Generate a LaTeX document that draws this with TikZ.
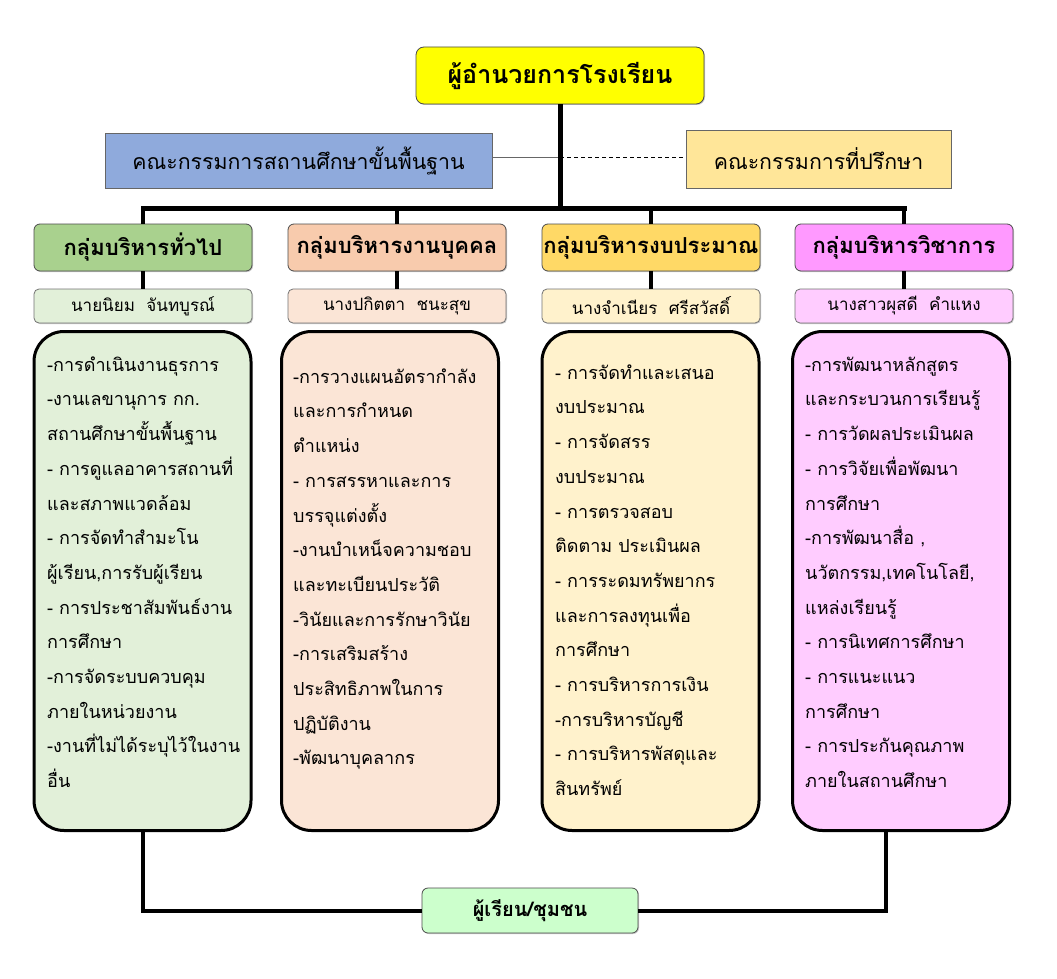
\documentclass[tikz,border=0pt]{standalone}
\usepackage{fontspec}
\usetikzlibrary{shadows}
\newfontfamily\thaifont[Script=Thai]{Loma}
\newfontfamily\thaibold[Script=Thai,BoldFont={* Bold}]{Loma}
\definecolor{cTop}{HTML}{FFFF00}
\definecolor{cBlue}{HTML}{8FAADC}
\definecolor{cAdv}{HTML}{FFE699}
\definecolor{hA}{HTML}{A9D18E}
\definecolor{hB}{HTML}{F8CBAD}
\definecolor{hC}{HTML}{FFD966}
\definecolor{hD}{HTML}{FF99FF}
\definecolor{lA}{HTML}{E2F0D9}
\definecolor{lB}{HTML}{FBE5D6}
\definecolor{lC}{HTML}{FFF2CC}
\definecolor{lD}{HTML}{FFCCFF}
\definecolor{cBot}{HTML}{CCFFCC}
\tikzset{
  x=1pt, y=-1pt,
  shad/.style={drop shadow={shadow xshift=1pt, shadow yshift=-1pt, fill=black!35, opacity=0.6}},
  topbox/.style={shad, draw=black!70, line width=0.8pt, rounded corners=8pt, fill=cTop,
    minimum width=288pt, minimum height=57pt, inner sep=0pt,
    font=\thaibold\bfseries\fontsize{25}{30}\selectfont},
  sidebox/.style={shad, draw=black!60, line width=0.8pt, inner sep=0pt, minimum height=55pt,
    font=\thaifont\fontsize{21.3}{26}\selectfont},
  hdr/.style={shad, draw=black!70, line width=0.8pt, rounded corners=6pt, minimum width=218pt,
    minimum height=47pt, inner sep=0pt, font=\thaibold\bfseries\fontsize{22}{26}\selectfont},
  namebox/.style={shad, draw=black!55, line width=0.8pt, rounded corners=5pt, minimum width=218pt,
    minimum height=34pt, inner sep=0pt, font=\thaifont\fontsize{17}{20}\selectfont},
  bigbox/.style={draw=black, line width=3pt, rounded corners=30pt, minimum width=217pt,
    minimum height=499pt, inner sep=0pt},
  body/.style={anchor=north west, inner sep=0pt, align=left,
    font=\thaifont\fontsize{18}{34.7}\selectfont},
  botbox/.style={shad, draw=black!70, line width=0.8pt, rounded corners=6pt, fill=cBot,
    minimum width=216pt, minimum height=45pt, inner sep=0pt,
    font=\thaibold\bfseries\fontsize{20}{24}\selectfont},
  trunk/.style={line width=5pt},
  drop/.style={line width=3.5pt},
  thin/.style={line width=1pt, draw=black!60},
  dashline/.style={line width=1.5pt, dash pattern=on 4pt off 3pt},
}
\newcommand{\fl}{\rule{0pt}{24pt}}
\begin{document}
\begin{tikzpicture}
\useasboundingbox[fill=white] (0,0) rectangle (1057,979);

% top and committees
\node[topbox] (top) at (560,75.5) {ผู้อำนวยการโรงเรียน};
\node[sidebox, fill=cBlue, minimum width=387pt] (blue) at (298.5,160.5) {คณะกรรมการสถานศึกษาขั้นพื้นฐาน};
\node[sidebox, fill=cAdv, minimum width=265pt, minimum height=58pt] (adv) at (818.5,159) {คณะกรรมการที่ปรึกษา};

% headers
\node[hdr, fill=hA] (h1) at (143,247.5) {กลุ่มบริหารทั่วไป};
\node[hdr, fill=hB] (h2) at (397,247.5) {กลุ่มบริหารงานบุคคล};
\node[hdr, fill=hC] (h3) at (651,247.5) {กลุ่มบริหารงบประมาณ};
\node[hdr, fill=hD] (h4) at (904,247.5) {กลุ่มบริหารวิชาการ};

% names
\node[namebox, fill=lA] (n1) at (143,306) {นายนิยม\ \ จันทบูรณ์};
\node[namebox, fill=lB] (n2) at (397,306) {นางปกิตตา\ \ ชนะสุข};
\node[namebox, fill=lC] (n3) at (651,306) {นางจำเนียร\ \ ศรีสวัสดิ์};
\node[namebox, fill=lD] (n4) at (904,306) {นางสาวผุสดี\ \ คำแหง};

% big boxes
\node[bigbox, fill=lA] (b1) at (142.5,581) {};
\node[bigbox, fill=lB] (b2) at (390,581) {};
\node[bigbox, fill=lC] (b3) at (650.5,581) {};
\node[bigbox, fill=lD] (b4) at (901,581) {};

\node[body] (t1) at (47,347) {\fl-การดำเนินงานธุรการ\\-งานเลขานุการ กก.\\สถานศึกษาขั้นพื้นฐาน\\- การดูแลอาคารสถานที่\\และสภาพแวดล้อม\\- การจัดทำสำมะโน\\ผู้เรียน,การรับผู้เรียน\\- การประชาสัมพันธ์งาน\\การศึกษา\\-การจัดระบบควบคุม\\ภายในหน่วยงาน\\-งานที่ไม่ได้ระบุไว้ในงาน\\อื่น};
\node[body] (t2) at (293,359) {\fl-การวางแผนอัตรากำลัง\\และการกำหนด\\ตำแหน่ง\\- การสรรหาและการ\\บรรจุแต่งตั้ง\\-งานบำเหน็จความชอบ\\และทะเบียนประวัติ\\-วินัยและการรักษาวินัย\\-การเสริมสร้าง\\ประสิทธิภาพในการ\\ปฏิบัติงาน\\-พัฒนาบุคลากร};
\node[body] (t3) at (555,355) {\fl- การจัดทำและเสนอ\\งบประมาณ\\- การจัดสรร\\งบประมาณ\\- การตรวจสอบ\\ติดตาม ประเมินผล\\- การระดมทรัพยากร\\และการลงทุนเพื่อ\\การศึกษา\\- การบริหารการเงิน\\-การบริหารบัญชี\\- การบริหารพัสดุและ\\สินทรัพย์};
\node[body] (t4) at (805,347) {\fl-การพัฒนาหลักสูตร\\และกระบวนการเรียนรู้\\- การวัดผลประเมินผล\\- การวิจัยเพื่อพัฒนา\\การศึกษา\\-การพัฒนาสื่อ ,\\นวัตกรรม,เทคโนโลยี,\\แหล่งเรียนรู้\\- การนิเทศการศึกษา\\- การแนะแนว\\การศึกษา\\- การประกันคุณภาพ\\ภายในสถานศึกษา};

% bottom
\node[botbox] (bot) at (530,910.5) {ผู้เรียน/ชุมชน};

% connectors
\coordinate (barL) at (143,208);
\coordinate (barR) at (904,208);
\draw[thin] ([yshift=3pt]blue.east) -- ([yshift=3pt]blue.east -| top.south);
\draw[dashline] ([yshift=3pt]blue.east -| top.south) -- ([yshift=3pt]blue.east -| adv.west);
\draw[trunk] (top.south) -- (top.south |- barL);
\draw[trunk, line cap=rect] (barL) -- (barR);
\foreach \h in {h1,h2,h3,h4}{
  \draw[drop] (\h.north |- barL) -- (\h.north);
  \draw[drop] (\h.south) -- (\h.south |- n1.north);
}
\draw[drop, line width=4pt] (b1.south -| h1.south) |- (bot.west);
\draw[drop, line width=4pt] ([xshift=-15pt]b4.south) |- (bot.east);
\end{tikzpicture}
\end{document}
